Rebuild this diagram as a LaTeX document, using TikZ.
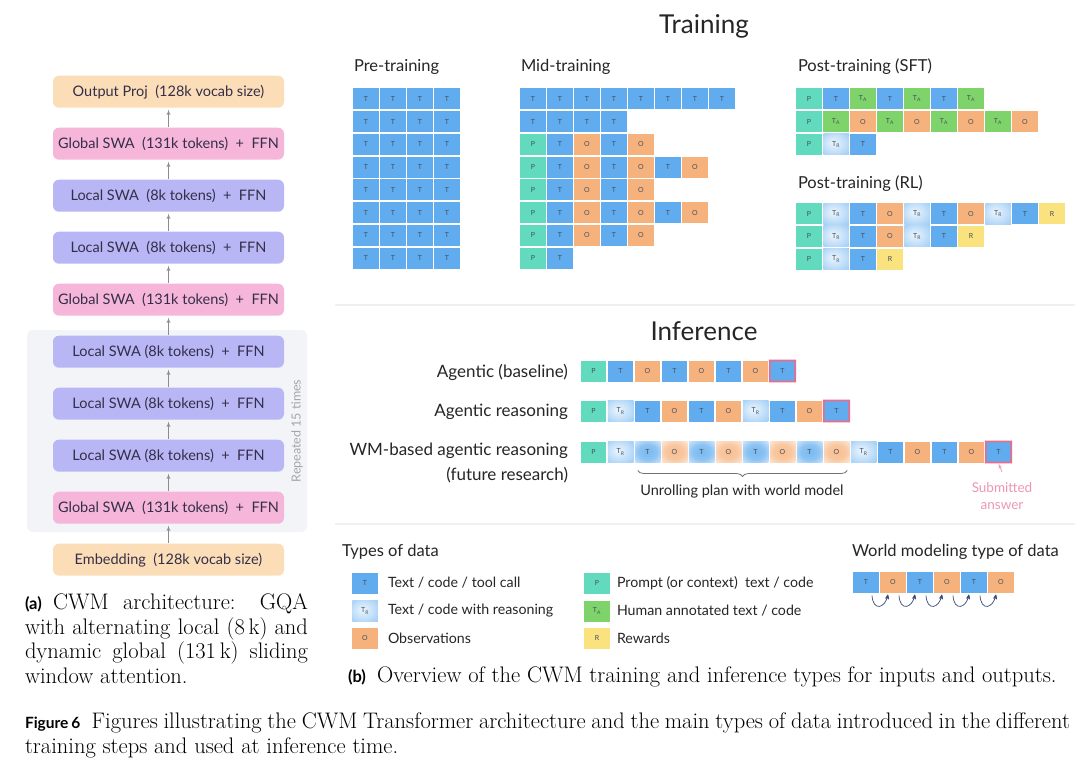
\documentclass[tikz,border=0pt]{standalone}
\usepackage{fontspec}
\newfontfamily\lato{Lato}
\usepackage{tikz}
\usetikzlibrary{positioning}
\usetikzlibrary{arrows,decorations.pathreplacing}
\tikzstyle{line} = [draw, color=black!45, line width=0.8pt, -latex', shorten >=2pt, shorten <=1pt]
\definecolor{tokblue}{RGB}{96,172,238}
\definecolor{tokteal}{RGB}{98,218,190}
\definecolor{tokorange}{RGB}{246,178,124}
\definecolor{tokgreen}{RGB}{126,212,106}
\definecolor{tokyellow}{RGB}{250,226,126}
\definecolor{subred}{RGB}{232,108,140}
\definecolor{subpink}{RGB}{238,150,180}
\definecolor{endpeach}{RGB}{251,222,184}
\definecolor{globalpink}{RGB}{246,182,218}
\definecolor{locallav}{RGB}{184,182,244}
\definecolor{archtext}{RGB}{52,46,72}
\definecolor{repgray}{RGB}{243,244,248}
\definecolor{wmarrow}{RGB}{60,74,120}
\definecolor{toktext}{RGB}{70,80,95}
\pgfdeclareradialshading{reasblue}{\pgfpoint{-6bp}{4bp}}{color(0bp)=(tokblue!12); color(22bp)=(tokblue!40); color(50bp)=(tokblue!78)}
\pgfdeclareradialshading{fadeblue}{\pgfpoint{0bp}{0bp}}{color(0bp)=(tokblue!85); color(18bp)=(tokblue!72); color(40bp)=(tokblue!22); color(50bp)=(white)}
\pgfdeclareradialshading{fadeorange}{\pgfpoint{0bp}{0bp}}{color(0bp)=(tokorange!85); color(18bp)=(tokorange!72); color(40bp)=(tokorange!22); color(50bp)=(white)}
\newcommand{\captag}{\lato\bfseries\fontsize{16.5}{20}\selectfont}

% one row of tokens: name, centre x of first cell, centre y, list of kinds
\newcommand{\tokrow}[4]{%
  \foreach \k [count=\i] in {#4} {
    \node (#1-\i) at ({#2+27*(\i-1)},{#3}) [tok\k];
  }}

\begin{document}
\begin{tikzpicture}[x=1pt,y=-1pt,node distance=20pt,outer sep=0pt,
archbox/.style={
  rounded corners=6pt,
  minimum width=231pt,
  minimum height=32pt,
  inner sep=0pt,
  text=archtext,
  font={\lato\fontsize{14.5}{16}\selectfont}},
globalb/.style={archbox,fill=globalpink},
localb/.style={archbox,fill=locallav},
endb/.style={archbox,fill=endpeach},
tok/.style={
  minimum width=25.5pt,
  minimum height=21pt,
  inner sep=0pt,
  text=toktext,
  font={\lato\fontsize{7}{8}\selectfont}},
tokT/.style={tok,fill=tokblue,node contents=T},
tokO/.style={tok,fill=tokorange,node contents=O},
tokP/.style={tok,fill=tokteal,node contents=P},
tokA/.style={tok,fill=tokgreen,node contents={T\textsubscript{A}}},
tokQ/.style={tok,shading=reasblue,node contents={T\textsubscript{R}}},
tokR/.style={tok,fill=tokyellow,node contents=R},
tokU/.style={tok,shading=fadeblue,node contents=T},
tokV/.style={tok,shading=fadeorange,node contents=O},
subframe/.style={fill=subred,even odd rule},
title/.style={font={\lato\fontsize{26}{30}\selectfont},text=black!85},
stage/.style={font={\lato\fontsize{16.5}{19}\selectfont},text=black!85,anchor=west,inner sep=0pt},
rowlab/.style={font={\lato\fontsize{17}{20}\selectfont},text=black!85,anchor=east,inner sep=0pt},
keylab/.style={font={\lato\fontsize{14.2}{17}\selectfont},text=black!85,anchor=west,inner sep=0pt},
capt/.style={font={\fontsize{22.5}{24.5}\selectfont},inner sep=0pt},
wmarc/.style={draw=wmarrow,line width=0.7pt,-stealth'},
]
\useasboundingbox (0,0) rectangle (1080,769);
\fill[white] (0,0) rectangle (1080,769);

% architecture
\fill[repgray,rounded corners=6pt] (27,330) rectangle (307,532);
\node[endb] (outp) at (168.5,91.7) {Output Proj~ (128k vocab size)};
\node[globalb,below=of outp] (glob1) {Global SWA~ (131k tokens)~ +~ FFN};
\node[localb,below=of glob1] (loc1) {Local SWA~ (8k tokens)~ +~ FFN};
\node[localb,below=of loc1] (loc2) {Local SWA~ (8k tokens)~ +~ FFN};
\node[globalb,below=of loc2] (glob2) {Global SWA~ (131k tokens)~ +~ FFN};
\node[localb,below=of glob2] (loc3) {Local SWA (8k tokens)~ +~ FFN};
\node[localb,below=of loc3] (loc4) {Local SWA (8k tokens)~ +~ FFN};
\node[localb,below=of loc4] (loc5) {Local SWA (8k tokens)~ +~ FFN};
\node[globalb,below=of loc5] (glob3) {Global SWA~ (131k tokens)~ +~ FFN};
\node[endb,below=of glob3] (emb) {Embedding~ (128k vocab size)};
\node[rotate=90,text=black!35,font={\lato\fontsize{12.5}{14}\selectfont}] (rep) at (297,431) {Repeated 15 times};
\foreach \a/\b in {emb/glob3,glob3/loc5,loc5/loc4,loc4/loc3,loc3/glob2,glob2/loc2,loc2/loc1,loc1/glob1,glob1/outp}
  \path[line] (\a) -- (\b);

% training
\draw[black!6,line width=1.5pt] (335,305) -- (1075,305);
\draw[black!6,line width=1.5pt] (335,524) -- (1075,524);
\node[title] (train) at (704,26) {Training};
\node[stage] (pre) at (354,67) {Pre-training};
\node[stage] (mid) at (521,67) {Mid-training};
\node[stage] (sft) at (798,67) {Post-training (SFT)};
\node[stage] (rl) at (798,184) {Post-training (RL)};

\foreach \r in {1,...,8} {
  \tokrow{pre\r}{366}{98.8+22.75*(\r-1)}{T,T,T,T}
}

\tokrow{mid1}{533}{98.8}{T,T,T,T,T,T,T,T}
\tokrow{mid2}{533}{121.5}{T,T,T,T}
\tokrow{mid3}{533}{144.3}{P,T,O,T,O}
\tokrow{mid4}{533}{167}{P,T,O,T,O,T,O}
\tokrow{mid5}{533}{189.8}{P,T,O,T,O}
\tokrow{mid6}{533}{212.5}{P,T,O,T,O,T,O}
\tokrow{mid7}{533}{235.3}{P,T,O,T,O}
\tokrow{mid8}{533}{258}{P,T}

\tokrow{sft1}{809}{98.8}{P,T,A,T,A,T,A}
\tokrow{sft2}{809}{121.5}{P,A,O,A,O,A,O,A,O}
\tokrow{sft3}{809}{144.3}{P,Q,T}

\tokrow{rl1}{809}{213.5}{P,Q,T,O,Q,T,O,Q,T,R}
\tokrow{rl2}{809}{236.3}{P,Q,T,O,Q,T,R}
\tokrow{rl3}{809}{259}{P,Q,T,R}

% inference
\node[title] (infer) at (704,331) {Inference};
\node[rowlab] (lbase) at (568,372) {Agentic (baseline)};
\node[rowlab] (lreas) at (568,412) {Agentic reasoning};
\node[rowlab] (lwm) at (568,451) {WM-based agentic reasoning};
\node[rowlab] (lfut) at (568,475) {(future research)};

\tokrow{base}{593.5}{371}{P,T,O,T,O,T,O,T}
\tokrow{reas}{593.5}{411}{P,Q,T,O,T,O,Q,T,O,T}
\tokrow{wm}{593.5}{452}{P,Q,U,V,U,V,U,V,U,V,Q,T,O,T,O,T}

\draw[decorate,decoration={brace,mirror,amplitude=6pt},black!55,line width=0.8pt]
  ([xshift=3pt,yshift=-8pt]wm-3.south west) -- ([xshift=-2pt,yshift=-8pt]wm-10.south east);
\node[font={\lato\fontsize{14.5}{17}\selectfont},text=black!85] (unroll) at (742,491) {Unrolling plan with world model};

\coordinate (subm) at (1002,472);
\draw[subpink,line width=0.7pt,-latex'] (subm) -- ([yshift=-1pt]wm-16.south);
\node[font={\lato\fontsize{13.5}{17}\selectfont},text=subpink,align=center] (subtxt) at (1002,496) {Submitted\\answer};

% types of data
\node[stage] (types) at (342,552) {Types of data};
\node (keyT) at (365,583) [tokT];
\node[keylab] (keyT-lab) at (388,583) {Text / code / tool call};
\node (keyQ) at (365,611) [tokQ];
\node[keylab] (keyQ-lab) at (388,611) {Text / code with reasoning};
\node (keyO) at (365,638) [tokO];
\node[keylab] (keyO-lab) at (388,638) {Observations};
\node (keyP) at (597,583) [tokP];
\node[keylab] (keyP-lab) at (617,583) {Prompt (or context)~ text / code};
\node (keyA) at (597,611) [tokA];
\node[keylab] (keyA-lab) at (617,611) {Human annotated text / code};
\node (keyR) at (597,638) [tokR];
\node[keylab] (keyR-lab) at (617,638) {Rewards};

\node[stage] (wmtype) at (852,552) {World modeling type of data};
\tokrow{wmt}{866}{582}{T,O,T,O,T,O}
\foreach \i [evaluate=\i as \j using int(\i+1)] in {1,...,5}
  \draw[wmarc] ([xshift=6pt,yshift=-3pt]wmt-\i.south) .. controls +(1,16) and +(-3,14) .. ([xshift=-5pt,yshift=-2pt]wmt-\j.south);

% captions
\node[capt,anchor=north west,text width=283pt,align=justify] (capa) at (25,594)
  {{\captag (a)}\enspace CWM architecture: GQA\linebreak with alternating local (8\,k) and\linebreak dynamic global (131\,k) sliding\linebreak window attention.};
\node[capt,anchor=base west] (capb) at (348,682)
  {{\captag (b)}\enspace Overview of the CWM training and inference types for inputs and outputs.};
\node[capt,anchor=north west,text width=1045pt,align=justify] (capfig) at (25,713)
  {{\lato\bfseries\fontsize{15.5}{20}\selectfont Figure\hspace{3pt}6}\enspace Figures illustrating the CWM Transformer architecture and the main types of data introduced in the different\linebreak training steps and used at inference time.};

% frames round the submitted answers
\foreach \c in {base-8,reas-10,wm-16}
  \fill[subframe] ([xshift=-0.8pt,yshift=-0.8pt]\c.south west) rectangle ([xshift=0.8pt,yshift=0.8pt]\c.north east)
                  ([xshift=0.8pt,yshift=0.8pt]\c.south west) rectangle ([xshift=-0.8pt,yshift=-0.8pt]\c.north east);
\end{tikzpicture}
\end{document}
